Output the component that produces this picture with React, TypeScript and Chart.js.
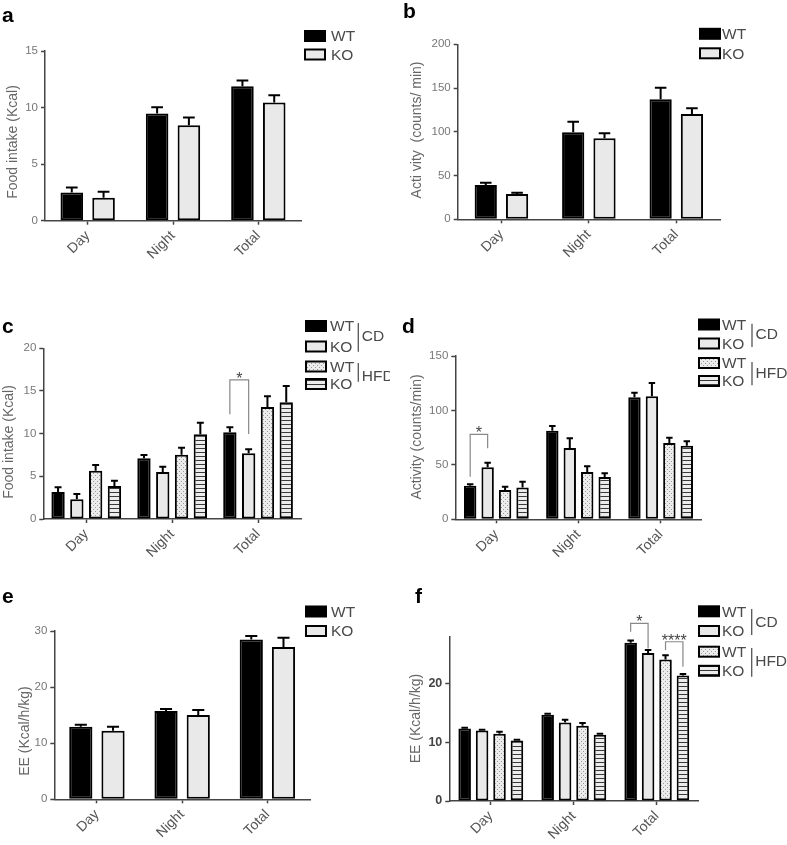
import React, { useEffect, useRef } from "react";
import { Chart, registerables } from "chart.js";
Chart.register(...registerables);

const FONT = '"Liberation Sans", Arial, Helvetica, sans-serif';
Chart.defaults.font.family = FONT;

// ---------- data ----------
const categories = ["Day", "Night", "Total"];
const genotypes = ["WT", "KO"];
const diets = ["CD", "HFD"];

// a: Food intake (Kcal)
const aWT = [2.5, 9.47, 11.89];
const aWTerr = [0.44, 0.55, 0.5];
const aKO = [2.03, 8.44, 10.45];
const aKOerr = [0.53, 0.68, 0.64];
const aTicks = [0, 5, 10, 15];

// b: Activity (counts/min)
const bWT = [39.2, 99.4, 137.1];
const bWTerr = [2.6, 12.1, 13.3];
const bKO = [28.9, 92.6, 120.3];
const bKOerr = [1.5, 5.7, 6.6];
const bTicks = [0, 50, 100, 150, 200];

// c: Food intake (Kcal), CD vs HFD
const cWTCD = [3.16, 7.11, 10.16];
const cWTCDerr = [0.55, 0.39, 0.58];
const cKOCD = [2.3, 5.51, 7.7];
const cKOCDerr = [0.63, 0.62, 0.46];
const cWTHFD = [5.66, 7.54, 13.13];
const cWTHFDerr = [0.67, 0.82, 1.25];
const cKOHFD = [3.87, 9.92, 13.67];
const cKOHFDerr = [0.62, 1.37, 1.92];
const cTicks = [0, 5, 10, 15, 20];

// d: Activity (counts/min), CD vs HFD
const dWTCD = [30.9, 81.4, 112.0];
const dWTCDerr = [1.2, 4.3, 4.3];
const dKOCD = [47.8, 65.5, 113.0];
const dKOCDerr = [4.2, 8.9, 12.2];
const dWTHFD = [26.9, 43.5, 70.1];
const dWTHFDerr = [3.1, 5.2, 4.9];
const dKOHFD = [29.1, 38.9, 67.6];
const dKOHFDerr = [5.5, 3.3, 4.0];
const dTicks = [0, 50, 100, 150];

// e: EE (Kcal/h/kg)
const eWT = [12.95, 15.75, 28.5];
const eWTerr = [0.35, 0.35, 0.6];
const eKO = [12.24, 15.04, 27.15];
const eKOerr = [0.71, 0.88, 1.65];
const eTicks = [0, 10, 20, 30];

// f: EE (Kcal/h/kg), CD vs HFD
const fWTCD = [12.36, 14.7, 26.95];
const fWTCDerr = [0.12, 0.17, 0.4];
const fKOCD = [12.02, 13.39, 25.24];
const fKOCDerr = [0.12, 0.46, 0.51];
const fWTHFD = [11.45, 12.82, 24.1];
const fWTHFDerr = [0.34, 0.46, 0.74];
const fKOHFD = [10.31, 11.28, 21.37];
const fKOHFDerr = [0.12, 0.17, 0.28];
const fTicks = [0, 10, 20];

// ---------- panel specs ----------
type Style = "wt" | "ko" | "dots" | "stripes";
type Series = { label: string; data: number[]; err: number[]; style: Style };
type Group = { lineX: number; y1: number; y2: number; label: string; labelY: number };
type Bracket = { cat: number; a: number; b: number; top: number; legA: number; legB: number; label: string };
type Panel = {
  letter: string; letterX: number; letterY: number;
  box: [number, number, number, number];
  area: [number, number, number, number];
  yTitle: string; titleX: number; titleY: number;
  yMax: number; ticks: number[]; tickBold?: boolean;
  series: Series[]; catPct: number; barPct: number;
  legend: { x: number; ys: number[]; textX: number; groups?: Group[] };
  brackets?: Bracket[];
};

const twoSeries = (wt: number[], wtE: number[], ko: number[], koE: number[]): Series[] => [
  { label: genotypes[0], data: wt, err: wtE, style: "wt" },
  { label: genotypes[1], data: ko, err: koE, style: "ko" },
];
const fourSeries = (
  a: number[], ae: number[], b: number[], be: number[],
  c: number[], ce: number[], d: number[], de: number[]
): Series[] => [
  { label: genotypes[0] + " " + diets[0], data: a, err: ae, style: "wt" },
  { label: genotypes[1] + " " + diets[0], data: b, err: be, style: "ko" },
  { label: genotypes[0] + " " + diets[1], data: c, err: ce, style: "dots" },
  { label: genotypes[1] + " " + diets[1], data: d, err: de, style: "stripes" },
];

const panels: Panel[] = [
  {
    letter: "a", letterX: 2, letterY: 21.5,
    box: [0, 0, 390, 280], area: [45, 51, 301, 220.7],
    yTitle: "Food intake (Kcal)", titleX: 13, titleY: 142,
    yMax: 15, ticks: aTicks,
    series: twoSeries(aWT, aWTerr, aKO, aKOerr), catPct: 0.745, barPct: 0.71,
    legend: { x: 305, ys: [36, 54.5], textX: 331 },
  },
  {
    letter: "b", letterX: 403, letterY: 18.3,
    box: [390, 0, 397, 280], area: [457.7, 44.3, 720, 219.3],
    yTitle: "Acti vity  (counts/ min)", titleX: 417, titleY: 130,
    yMax: 200, ticks: bTicks,
    series: twoSeries(bWT, bWTerr, bKO, bKOerr), catPct: 0.716, barPct: 0.71,
    legend: { x: 700, ys: [33.8, 53.3], textX: 722 },
  },
  {
    letter: "c", letterX: 2, letterY: 333,
    box: [0, 280, 390, 290], area: [43.3, 348.3, 301, 519],
    yTitle: "Food intake (Kcal)", titleX: 9, titleY: 442,
    yMax: 20, ticks: cTicks,
    series: fourSeries(cWTCD, cWTCDerr, cKOCD, cKOCDerr, cWTHFD, cWTHFDerr, cKOHFD, cKOHFDerr),
    catPct: 0.875, barPct: 0.71,
    legend: {
      x: 306, ys: [326, 346.5, 366.5, 384], textX: 330,
      groups: [
        { lineX: 358.3, y1: 323, y2: 351.7, label: diets[0], labelY: 336.7 },
        { lineX: 358.3, y1: 363, y2: 381.7, label: diets[1], labelY: 376.7 },
      ],
    },
    brackets: [{ cat: 2, a: 0, b: 1, top: 16.29, legA: 12.27, legB: 9.96, label: "*" }],
  },
  {
    letter: "d", letterX: 402, letterY: 333.3,
    box: [390, 280, 397, 290], area: [455.3, 356, 701.7, 519.3],
    yTitle: "Activity (counts/min)", titleX: 417.5, titleY: 437,
    yMax: 150, ticks: dTicks,
    series: fourSeries(dWTCD, dWTCDerr, dKOCD, dKOCDerr, dWTHFD, dWTHFDerr, dKOHFD, dKOHFDerr),
    catPct: 0.85, barPct: 0.71,
    legend: {
      x: 699, ys: [324.5, 343.5, 363, 381], textX: 722,
      groups: [
        { lineX: 752, y1: 323.7, y2: 347, label: diets[0], labelY: 335 },
        { lineX: 752, y1: 362, y2: 385.3, label: diets[1], labelY: 373.5 },
      ],
    },
    brackets: [{ cat: 0, a: 0, b: 1, top: 78.1, legA: 39.1, legB: 65.2, label: "*" }],
  },
  {
    letter: "e", letterX: 2, letterY: 603.3,
    box: [0, 570, 390, 275], area: [54.3, 631, 310, 799.3],
    yTitle: "EE (Kcal/h/kg)", titleX: 25, titleY: 731,
    yMax: 30, ticks: eTicks,
    series: twoSeries(eWT, eWTerr, eKO, eKOerr), catPct: 0.756, barPct: 0.72,
    legend: { x: 306, ys: [611.5, 631], textX: 331 },
  },
  {
    letter: "f", letterX: 415, letterY: 603.3,
    box: [390, 570, 397, 275], area: [449.3, 636.7, 698.3, 801],
    yTitle: "EE (Kcal/h/kg)", titleX: 416.5, titleY: 718.5,
    yMax: 28, ticks: fTicks, tickBold: true,
    series: fourSeries(fWTCD, fWTCDerr, fKOCD, fKOCDerr, fWTHFD, fWTHFDerr, fKOHFD, fKOHFDerr),
    catPct: 0.84, barPct: 0.72,
    legend: {
      x: 699, ys: [611.3, 631, 651.7, 670.8], textX: 722,
      groups: [
        { lineX: 751.7, y1: 609, y2: 635, label: diets[0], labelY: 622.7 },
        { lineX: 751.7, y1: 648, y2: 676.7, label: diets[1], labelY: 661.7 },
      ],
    },
    brackets: [
      { cat: 2, a: 0, b: 1, top: 30.27, legA: 28.84, legB: 26.01, label: "*" },
      { cat: 2, a: 2, b: 3, top: 27.14, legA: 25.72, legB: 22.88, label: "****" },
    ],
  },
];

// ---------- fills ----------
function makePattern(kind: "dots" | "stripes"): CanvasPattern | string {
  const c = document.createElement("canvas");
  c.width = 4;
  c.height = 4;
  const g = c.getContext("2d");
  if (!g) return "#ececec";
  g.fillStyle = "#ececec";
  g.fillRect(0, 0, 4, 4);
  if (kind === "dots") {
    g.fillStyle = "#9a9a9a";
    g.fillRect(1, 1, 1, 1);
    g.fillRect(3, 3, 1, 1);
  } else {
    g.fillStyle = "#3a3a3a";
    g.fillRect(0, 0, 4, 1);
  }
  return g.createPattern(c, "repeat") || "#ececec";
}

function fillFor(style: Style): CanvasPattern | string {
  if (style === "wt") return "#000000";
  if (style === "ko") return "#e9e9e9";
  return makePattern(style);
}

// ---------- decoration plugin ----------
function makeDecor(p: Panel) {
  return {
    id: "decor" + p.letter,
    afterDatasetsDraw(chart: any) {
      const ctx: CanvasRenderingContext2D = chart.ctx;
      const ys = chart.scales.y;
      ctx.save();
      ctx.strokeStyle = "#000";
      ctx.lineWidth = 2;
      ctx.lineCap = "butt";
      p.series.forEach((s, i) => {
        const meta = chart.getDatasetMeta(i);
        meta.data.forEach((el: any, j: number) => {
          const { x, y, width } = el.getProps(["x", "y", "width"], true);
          const yt = ys.getPixelForValue(s.data[j] + s.err[j]);
          const hw = width * 0.26;
          ctx.beginPath();
          ctx.moveTo(x, y);
          ctx.lineTo(x, yt);
          ctx.moveTo(x - hw, yt);
          ctx.lineTo(x + hw, yt);
          ctx.stroke();
        });
      });
      ctx.restore();
    },
    afterDraw(chart: any) {
      const ctx: CanvasRenderingContext2D = chart.ctx;
      const ox = p.box[0];
      const oy = p.box[1];
      const ys = chart.scales.y;
      ctx.save();

      // panel letter
      ctx.fillStyle = "#000";
      ctx.font = `bold 21px ${FONT}`;
      ctx.textAlign = "left";
      ctx.textBaseline = "alphabetic";
      ctx.fillText(p.letter, p.letterX - ox, p.letterY - oy);

      // y title
      ctx.save();
      ctx.translate(p.titleX - ox, p.titleY - oy);
      ctx.rotate(-Math.PI / 2);
      ctx.fillStyle = "#666";
      ctx.font = `14px ${FONT}`;
      ctx.textAlign = "center";
      ctx.textBaseline = "middle";
      ctx.fillText(p.yTitle, 0, 0);
      ctx.restore();

      // legend
      const lg = p.legend;
      p.series.forEach((s, i) => {
        const cy = lg.ys[i] - oy;
        const bx = lg.x - ox;
        ctx.fillStyle = fillFor(s.style) as any;
        ctx.fillRect(bx, cy - 5, 20, 10);
        ctx.strokeStyle = "#000";
        ctx.lineWidth = 2;
        ctx.strokeRect(bx, cy - 5, 20, 10);
        ctx.fillStyle = "#4a4a4a";
        ctx.font = `15.5px ${FONT}`;
        ctx.textAlign = "left";
        ctx.textBaseline = "middle";
        ctx.fillText(genotypes[i % 2], lg.textX - ox, cy + 1);
      });
      (lg.groups || []).forEach((g) => {
        ctx.strokeStyle = "#555";
        ctx.lineWidth = 1.3;
        ctx.beginPath();
        ctx.moveTo(g.lineX - ox, g.y1 - oy);
        ctx.lineTo(g.lineX - ox, g.y2 - oy);
        ctx.stroke();
        ctx.fillStyle = "#4a4a4a";
        ctx.font = `15.5px ${FONT}`;
        ctx.textAlign = "left";
        ctx.textBaseline = "middle";
        ctx.fillText(g.label, g.lineX - ox + 3.5, g.labelY - oy);
      });

      // significance brackets
      (p.brackets || []).forEach((b) => {
        const xa = chart.getDatasetMeta(b.a).data[b.cat].x;
        const xb = chart.getDatasetMeta(b.b).data[b.cat].x;
        const yt = ys.getPixelForValue(b.top);
        const ya = ys.getPixelForValue(b.legA);
        const yb = ys.getPixelForValue(b.legB);
        ctx.strokeStyle = "#888";
        ctx.lineWidth = 1.2;
        ctx.beginPath();
        ctx.moveTo(xa, ya);
        ctx.lineTo(xa, yt);
        ctx.lineTo(xb, yt);
        ctx.lineTo(xb, yb);
        ctx.stroke();
        ctx.fillStyle = "#444";
        ctx.font = `16px ${FONT}`;
        ctx.textAlign = "center";
        ctx.textBaseline = "alphabetic";
        ctx.fillText(b.label, (xa + xb) / 2, yt + 4);
      });

      ctx.restore();
    },
  };
}

// ---------- chart component ----------
function PanelChart({ p }: { p: Panel }) {
  const ref = useRef<HTMLCanvasElement>(null);
  useEffect(() => {
    const canvas = ref.current;
    if (!canvas) return;
    const [bx, by, bw, bh] = p.box;
    const [al, at, ar, ab] = p.area;
    const chart = new Chart(canvas, {
      type: "bar",
      data: {
        labels: categories,
        datasets: p.series.map((s) => ({
          label: s.label,
          data: s.data,
          backgroundColor: fillFor(s.style) as any,
          borderColor: "#000",
          borderWidth: 2,
          borderSkipped: false,
          categoryPercentage: p.catPct,
          barPercentage: p.barPct,
        })),
      },
      options: {
        responsive: false,
        animation: false,
        devicePixelRatio: 1,
        layout: { padding: { left: 0, top: at - by, right: bx + bw - ar, bottom: 0 } },
        plugins: { legend: { display: false }, tooltip: { enabled: false } },
        scales: {
          x: {
            afterFit: (s: any) => {
              s.height = by + bh - ab;
            },
            grid: {
              offset: false,
              drawOnChartArea: false,
              drawTicks: true,
              tickLength: 4,
              tickWidth: 1.5,
              tickColor: "#444",
            },
            border: { display: true, color: "#444", width: 1.5 },
            ticks: {
              minRotation: 45,
              maxRotation: 45,
              color: "#555",
              font: { size: 14, family: FONT },
              padding: 3,
            },
          },
          y: {
            min: 0,
            max: p.yMax,
            afterBuildTicks: (s: any) => {
              s.ticks = p.ticks.map((v) => ({ value: v }));
            },
            afterFit: (s: any) => {
              s.width = al - bx;
            },
            grid: {
              drawOnChartArea: false,
              drawTicks: true,
              tickLength: 4,
              tickWidth: 1.5,
              tickColor: "#444",
            },
            border: { display: true, color: "#444", width: 1.5 },
            ticks: {
              color: p.tickBold ? "#444" : "#777",
              font: { size: p.tickBold ? 12.5 : 11.5, weight: p.tickBold ? "bold" : "normal", family: FONT },
              padding: 3,
            },
          },
        },
      },
      plugins: [makeDecor(p)],
    } as any);
    return () => chart.destroy();
  }, [p]);
  return (
    <canvas
      ref={ref}
      width={p.box[2]}
      height={p.box[3]}
      style={{ position: "absolute", left: p.box[0], top: p.box[1], width: p.box[2], height: p.box[3] }}
    />
  );
}

export default function App() {
  return (
    <div style={{ position: "absolute", left: 0, top: 0, width: 787, height: 845, background: "#fff", overflow: "hidden" }}>
      {panels.map((p) => (
        <PanelChart key={p.letter} p={p} />
      ))}
    </div>
  );
}
